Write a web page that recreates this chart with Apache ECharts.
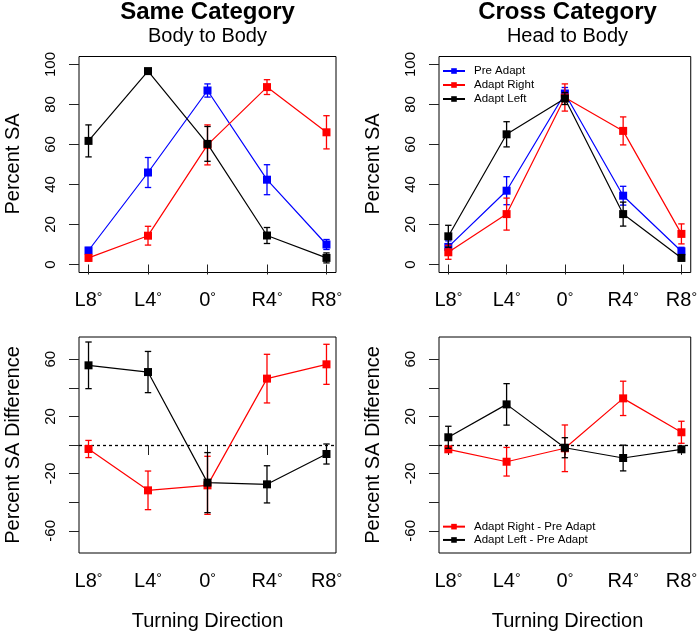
<!DOCTYPE html>
<html>
<head>
<meta charset="utf-8">
<script src="https://cdn.jsdelivr.net/npm/echarts@6/dist/echarts.min.js"></script>
<style>html,body{margin:0;padding:0;background:#fff}#c{width:700px;height:634px}</style>
</head>
<body>
<div id="c"></div>
<script>
// ---- data ----
const directions = ['L8°', 'L4°', '0°', 'R4°', 'R8°'];
const pctTicks = [0, 20, 40, 60, 80, 100];
const diffTicks = [-60, -40, -20, 0, 20, 40, 60];
const diffTickLabels = [-60, -20, 20, 60];

// Same Category (Body to Body)
const samePre = [7, 46, 87, 42.4, 10];
const samePreErr = [1.5, 7.5, 3.3, 7.5, 2.5];
const sameRight = [3.3, 14.4, 59.8, 88.7, 66.1];
const sameRightErr = [1.5, 4.7, 10, 3.7, 8.3];
const sameLeft = [61.8, 96.7, 60.3, 14.5, 3.3];
const sameLeftErr = [8, 1, 8.7, 4, 2.5];

// Cross Category (Head to Body)
const crossPre = [8.8, 36.9, 85.5, 34.4, 6.6];
const crossPreErr = [3, 7, 3, 4.7, 2];
const crossRight = [6.1, 25.2, 83.5, 66.8, 15.3];
const crossRightErr = [3.5, 8, 6.8, 7, 5];
const crossLeft = [14.1, 65.1, 83, 25.2, 3.3];
const crossLeftErr = [5.5, 6.3, 3, 6, 1.5];

// Differences
const sameDiffRight = [-2.8, -31.7, -28.2, 46.4, 56.4];
const sameDiffRightErr = [6, 13.5, 20.3, 17, 14];
const sameDiffLeft = [55.7, 51, -26.3, -27.5, -6.3];
const sameDiffLeftErr = [16.3, 14.4, 21, 13, 7];
const crossDiffRight = [-3, -11.7, -2.3, 32.6, 8.9];
const crossDiffRightErr = [1.5, 10, 16.3, 12, 7.7];
const crossDiffLeft = [5.4, 28.4, -1.9, -9.1, -3];
const crossDiffLeftErr = [7.7, 14.5, 7, 9, 1.5];

// ---- chart ----
const FONT = 'Liberation Sans, Arial, sans-serif';
const BLUE = '#0000ff', RED = '#ff0000', BLACK = '#000000';
const xPos = directions.map((d, i) => i + 1);

const grids = [
  {left: 79, top: 56.5, width: 257, height: 216},
  {left: 439, top: 56.5, width: 257, height: 216},
  {left: 79, top: 337, width: 257, height: 216},
  {left: 439, top: 337, width: 257, height: 216}
].map(g => Object.assign({show: true, borderColor: '#000', borderWidth: 1, backgroundColor: 'transparent'}, g));

function dirLabel(v) {
  const s = directions[Math.round(v) - 1] || '';
  const base = s.replace('°', '');
  return '{a|' + base + '}{d|°}';
}

const xAxes = grids.map((g, i) => ({
  type: 'value', gridIndex: i, min: 0.84, max: 5.16,
  axisLine: {show: false}, splitLine: {show: false},
  axisTick: {show: true, customValues: xPos, length: 10, lineStyle: {color: '#222', width: 1}},
  axisLabel: {customValues: xPos, formatter: dirLabel,
    fontSize: 20, color: '#000', margin: 18, fontFamily: FONT,
    rich: {
      a: {fontSize: 20, fontFamily: FONT, color: '#000'},
      d: {fontSize: 14, fontFamily: FONT, color: '#000', padding: [0, 0, 4, 0]}
    }}
}));

const yAxes = grids.map((g, i) => {
  const top = i < 2;
  return {
    type: 'value', gridIndex: i,
    min: top ? -4 : -75.5, max: top ? 104 : 75.5,
    axisLine: {show: false}, splitLine: {show: false},
    axisTick: {show: true, customValues: top ? pctTicks : diffTicks, length: 10, lineStyle: {color: '#222', width: 1}},
    axisLabel: {customValues: top ? pctTicks : diffTickLabels, rotate: 90,
      fontSize: 15, color: '#000', margin: 21, fontFamily: FONT}
  };
});

let zc = 2;
function lineSeries(name, vals, color, gi, extra) {
  return Object.assign({
    type: 'line', name: name, xAxisIndex: gi, yAxisIndex: gi,
    data: vals.map((v, i) => [xPos[i], v]),
    symbol: 'rect', symbolSize: 8, showSymbol: true,
    itemStyle: {color: color}, lineStyle: {color: color, width: 1.2},
    z: zc++, animation: false
  }, extra || {});
}
function errSeries(name, vals, errs, color, gi) {
  return {
    type: 'custom', name: name + ' err', xAxisIndex: gi, yAxisIndex: gi,
    data: vals.map((v, i) => [xPos[i], v - errs[i], v + errs[i]]),
    encode: {x: 0, y: [1, 2]},
    z: zc++, silent: true, animation: false,
    renderItem: function (params, api) {
      const x = api.value(0);
      const p1 = api.coord([x, api.value(1)]);
      const p2 = api.coord([x, api.value(2)]);
      const w = 3.2;
      const st = {stroke: color, lineWidth: 1.3, fill: null};
      return {type: 'group', children: [
        {type: 'line', shape: {x1: p1[0], y1: p1[1], x2: p2[0], y2: p2[1]}, style: st},
        {type: 'line', shape: {x1: p1[0] - w, y1: p1[1], x2: p1[0] + w, y2: p1[1]}, style: st},
        {type: 'line', shape: {x1: p2[0] - w, y1: p2[1], x2: p2[0] + w, y2: p2[1]}, style: st}
      ]};
    }
  };
}
const zeroLine = {
  silent: true, symbol: 'none', label: {show: false},
  lineStyle: {color: '#000', type: [3, 3], width: 1.3},
  data: [{yAxis: 0}], animation: false
};

const series = [];
function addPair(name, vals, errs, color, gi, extra) {
  series.push(errSeries(name, vals, errs, color, gi));
  series.push(lineSeries(name, vals, color, gi, extra));
}
addPair('Pre Adapt', samePre, samePreErr, BLUE, 0);
addPair('Adapt Right', sameRight, sameRightErr, RED, 0);
addPair('Adapt Left', sameLeft, sameLeftErr, BLACK, 0);
addPair('Pre Adapt', crossPre, crossPreErr, BLUE, 1);
addPair('Adapt Right', crossRight, crossRightErr, RED, 1);
addPair('Adapt Left', crossLeft, crossLeftErr, BLACK, 1);
addPair('Adapt Right - Pre Adapt', sameDiffRight, sameDiffRightErr, RED, 2, {markLine: zeroLine});
addPair('Adapt Left - Pre Adapt', sameDiffLeft, sameDiffLeftErr, BLACK, 2);
addPair('Adapt Right - Pre Adapt', crossDiffRight, crossDiffRightErr, RED, 3, {markLine: zeroLine});
addPair('Adapt Left - Pre Adapt', crossDiffLeft, crossDiffLeftErr, BLACK, 3);

function txt(text, x, y, size, opts) {
  opts = opts || {};
  return {
    type: 'text', x: x, y: y, rotation: opts.rot || 0, silent: true,
    style: {text: text, fontSize: size, fontWeight: opts.bold ? 'bold' : 'normal', fontFamily: FONT,
      fill: '#000', align: 'center', verticalAlign: 'middle', textAlign: 'center', textVerticalAlign: 'middle'}
  };
}

const legendText = {fontSize: 11.5, color: '#000', fontFamily: FONT, padding: [0, 0, 0, 4]};
const option = {
  animation: false,
  backgroundColor: '#fff',
  grid: grids,
  xAxis: xAxes,
  yAxis: yAxes,
  legend: [
    {data: ['Pre Adapt', 'Adapt Right', 'Adapt Left'], orient: 'vertical', left: 442, top: 64,
      padding: 0, itemWidth: 22, itemHeight: 7, itemGap: 0, selectedMode: false,
      textStyle: Object.assign({lineHeight: 14}, legendText)},
    {data: ['Adapt Right - Pre Adapt', 'Adapt Left - Pre Adapt'], orient: 'vertical', left: 442, top: 520,
      padding: 0, itemWidth: 22, itemHeight: 7, itemGap: 0, selectedMode: false,
      textStyle: Object.assign({lineHeight: 13.3}, legendText)}
  ],
  graphic: [
    txt('Same Category', 207.5, 12.5, 24, {bold: true}),
    txt('Body to Body', 207.5, 36, 20),
    txt('Cross Category', 567.5, 12.5, 24, {bold: true}),
    txt('Head to Body', 567.5, 36, 20),
    txt('Percent SA', 13.5, 164, 20, {rot: Math.PI / 2}),
    txt('Percent SA', 373.8, 164, 20, {rot: Math.PI / 2}),
    txt('Percent SA Difference', 13.5, 445, 20, {rot: Math.PI / 2}),
    txt('Percent SA Difference', 373.8, 445, 20, {rot: Math.PI / 2}),
    txt('Turning Direction', 207.5, 621.7, 20),
    txt('Turning Direction', 567.5, 621.7, 20)
  ],
  series: series
};
const chart = echarts.init(document.getElementById('c'), null, {renderer: 'canvas'});
chart.setOption(option);
</script>
</body>
</html>
